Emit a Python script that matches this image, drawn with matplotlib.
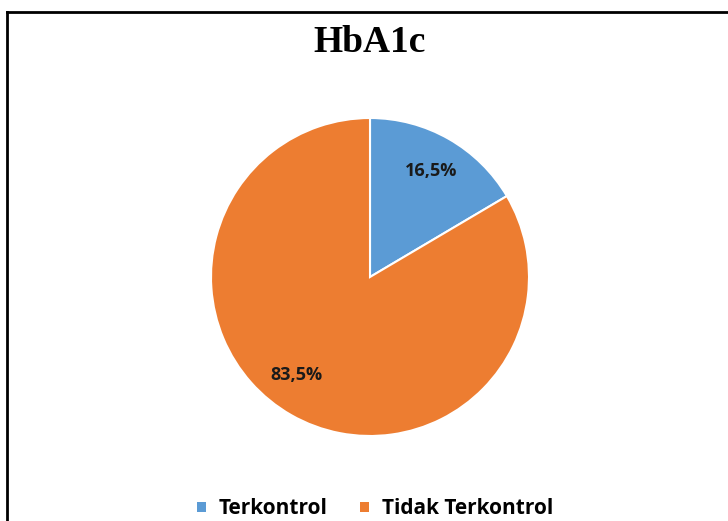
import numpy as np
import matplotlib.pyplot as plt
from matplotlib.patches import Patch
from matplotlib.lines import Line2D

labels = ['Terkontrol', 'Tidak Terkontrol']
values = [16.5, 83.5]
colors = ['#5B9BD5', '#ED7D31']
pct_text = ['16,5%', '83,5%']

fig = plt.figure(figsize=(7.28, 5.21), dpi=100)

# frame line along top and left, as in the cropped screenshot
fig.add_artist(Line2D([7 / 728, 7 / 728], [0, 1 - 12 / 521], color='black', lw=2))
fig.add_artist(Line2D([7 / 728, 1], [1 - 12 / 521, 1 - 12 / 521], color='black', lw=2))

ax = fig.add_axes([211 / 728, 85 / 521, 318 / 728, 318 / 521])
wedges, _ = ax.pie(values, colors=colors, startangle=90, counterclock=False,
                   radius=1, wedgeprops=dict(edgecolor='white', linewidth=1.5))
ax.set_xlim(-1, 1)
ax.set_ylim(-1, 1)
ax.set_aspect('equal')
ax.axis('off')

# data labels, roughly where Excel's "best fit" put them
nudge = [0, -7]
for w, txt, dn in zip(wedges, pct_text, nudge):
    ang = np.deg2rad((w.theta1 + w.theta2) / 2 + dn)
    r = 0.77
    ax.text(r * np.cos(ang), r * np.sin(ang), txt, ha='center', va='center',
            fontsize=13, fontweight='bold', family='Open Sans', color='#1a1a1a')

fig.text(370 / 728, 1 - 42 / 521, 'HbA1c', ha='center', va='center',
         fontsize=27, fontweight='bold', family='Liberation Serif')

handles = [Patch(facecolor=c, edgecolor='none') for c in colors]
fig.legend(handles, labels, loc='center', bbox_to_anchor=(375 / 728, 12 / 521),
           ncol=2, frameon=False, handlelength=0.42, handleheight=0.42,
           handletextpad=0.6, columnspacing=1.6,
           prop=dict(family='Open Sans', weight='bold', size=15))

fig.savefig('out.png', dpi=100)
